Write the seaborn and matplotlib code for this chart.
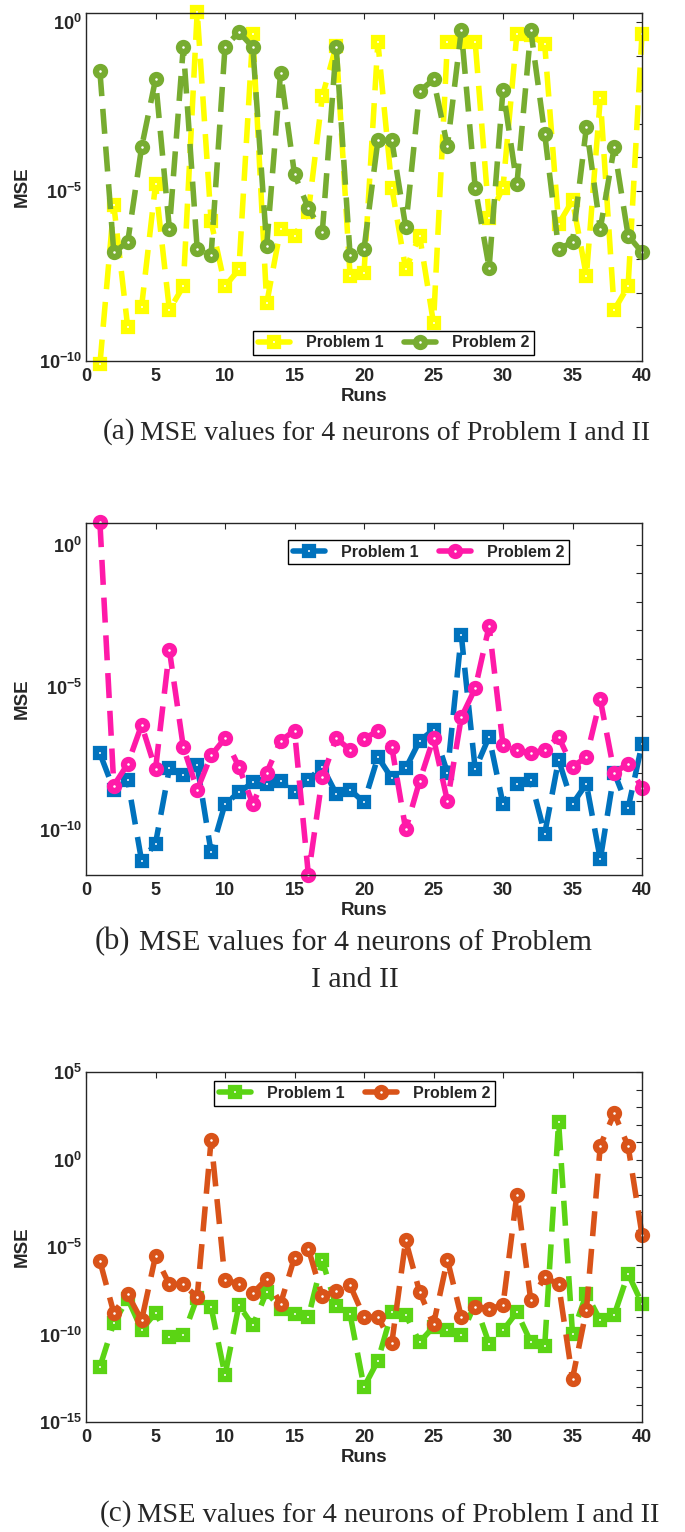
import numpy as np
import pandas as pd
import seaborn as sns
import matplotlib.pyplot as plt
from matplotlib.ticker import FixedLocator, NullLocator

sns.set_theme(style="white")
plt.rcParams['font.family'] = ['Liberation Sans', 'DejaVu Sans']
plt.rcParams['mathtext.fontset'] = 'custom'
plt.rcParams['mathtext.rm'] = 'Liberation Sans:bold'
plt.rcParams['mathtext.bf'] = 'Liberation Sans:bold'

runs = list(range(1, 41))

# (a) 4 neurons
a_p1 = [7.9e-11, 4.0e-6, 1.0e-9, 4.0e-9, 1.6e-5, 3.2e-9, 1.6e-8, 2.0, 1.3e-6, 1.6e-8,
        5.0e-8, 0.45, 5.0e-9, 7.9e-7, 5.0e-7, 2.5e-6, 6.3e-3, 0.2, 3.2e-8, 4.0e-8,
        0.25, 1.3e-5, 5.0e-8, 5.0e-7, 1.3e-9, 0.25, 0.25, 0.25, 1.7e-6, 1.3e-5,
        0.45, 0.4, 0.22, 1.1e-6, 5.4e-6, 3.2e-8, 5.6e-3, 3.2e-9, 1.6e-8, 0.45]
a_p2 = [3.5e-2, 1.6e-7, 3.2e-7, 2.0e-4, 2.0e-2, 7.9e-7, 0.18, 2.0e-7, 1.3e-7, 0.18,
        0.5, 0.18, 2.5e-7, 3.2e-2, 3.2e-5, 3.2e-6, 6.3e-7, 0.18, 1.3e-7, 2.0e-7,
        3.2e-4, 3.2e-4, 8.9e-7, 9.0e-3, 2.0e-2, 2.2e-4, 0.56, 1.3e-5, 5.6e-8, 1.0e-2,
        1.6e-5, 0.56, 5.0e-4, 2.0e-7, 3.2e-7, 7.9e-4, 7.9e-7, 2.0e-4, 5.0e-7, 1.6e-7]

# (b) 4 neurons
b_p1 = [4.7e-8, 2.5e-9, 5.4e-9, 7.9e-12, 3.2e-11, 1.4e-8, 7.9e-9, 1.8e-8, 1.6e-11, 7.9e-10,
        2.0e-9, 4.5e-9, 4.0e-9, 5.0e-9, 2.0e-9, 5.6e-9, 1.6e-8, 1.8e-9, 2.5e-9, 8.9e-10,
        3.5e-8, 6.3e-9, 1.4e-8, 1.3e-7, 3.2e-7, 1.0e-8, 6.8e-4, 1.3e-8, 1.8e-7, 7.9e-10,
        4.0e-9, 5.4e-9, 7.1e-11, 2.8e-8, 7.9e-10, 4.0e-9, 8.9e-12, 1.0e-8, 5.6e-10, 1.0e-7]
b_p2 = [6.3, 3.5e-9, 2.0e-8, 4.7e-7, 1.3e-8, 2.0e-4, 7.9e-8, 2.5e-9, 4.0e-8, 1.6e-7,
        1.6e-8, 7.9e-10, 1.0e-8, 1.3e-7, 3.0e-7, 2.5e-12, 6.8e-9, 1.6e-7, 6.3e-8, 1.5e-7,
        3.0e-7, 7.9e-8, 1.0e-10, 5.0e-9, 1.6e-7, 1.0e-9, 8.7e-7, 9.1e-6, 1.4e-3, 9.3e-8,
        6.3e-8, 4.7e-8, 6.3e-8, 1.8e-7, 1.6e-8, 3.5e-8, 3.7e-6, 1.0e-8, 2.0e-8, 2.8e-9]

# (c) 4 neurons
c_p1 = [1.4e-12, 4.6e-10, 1.1e-8, 1.9e-10, 1.7e-9, 7.2e-11, 8.9e-11, 1.3e-8, 3.7e-9, 4.7e-13,
        4.7e-9, 3.3e-10, 2.7e-8, 3.0e-9, 1.5e-9, 1.0e-9, 1.7e-6, 4.1e-9, 1.4e-9, 1.0e-13,
        3.2e-12, 1.9e-9, 1.3e-9, 3.7e-11, 2.7e-10, 1.7e-10, 8.9e-11, 5.8e-9, 3.0e-11, 1.7e-10,
        1.9e-9, 3.7e-11, 2.1e-11, 1.4e2, 1.1e-10, 2.1e-8, 6.5e-10, 1.3e-9, 3.0e-7, 5.8e-9]
c_p2 = [1.6e-6, 1.7e-9, 2.0e-8, 6.5e-10, 3.0e-6, 7.4e-8, 7.4e-8, 1.4e-8, 13.0, 1.3e-7,
        7.9e-8, 2.3e-8, 1.5e-7, 5.8e-9, 2.5e-6, 7.8e-6, 1.5e-8, 3.1e-8, 6.5e-8, 1.0e-9,
        1.0e-9, 3.2e-11, 2.4e-5, 2.7e-8, 3.8e-10, 1.9e-6, 1.0e-9, 3.7e-9, 3.0e-9, 4.7e-9,
        1.0e-2, 8.9e-9, 1.9e-7, 7.4e-8, 3.0e-13, 2.6e-9, 6.3, 4.3e2, 5.9, 5.1e-5]

caption = 'MSE values for 4 neurons of Problem I and II'

W, H = 685, 1532
fig = plt.figure(figsize=(W / 100, H / 100), dpi=100)

panels = [
    # data, colors, axes box (px: left, top, right, bottom), ylim exponents, labelled decades, legend
    dict(p1=a_p1, p2=a_p2, c1='#FFFF00', c2='#77AC30', box=(86, 13, 642, 361),
         ylim=(-10, 0.26), ylab=[0, -5, -10], leg=('lower left', (0.30, 0.017))),
    dict(p1=b_p1, p2=b_p2, c1='#0072BD', c2='#FF1AA8', box=(86, 523, 642, 875),
         ylim=(-11.6, 0.77), ylab=[0, -5, -10], leg=('upper left', (0.363, 0.952))),
    dict(p1=c_p1, p2=c_p2, c1='#5BD414', c2='#D95319', box=(86, 1072, 642, 1422),
         ylim=(-15, 5), ylab=[5, 0, -5, -10, -15], leg=('upper left', (0.23, 0.974))),
]

dash = (0, (4.5, 2.3))
for i, p in enumerate(panels):
    l, t, r, b = p['box']
    ax = fig.add_axes([l / W, 1 - b / H, (r - l) / W, (b - t) / H])
    df = pd.DataFrame({'Runs': runs, 'Problem 1': p['p1'], 'Problem 2': p['p2']})
    sns.lineplot(data=df, x='Runs', y='Problem 1', ax=ax, color=p['c1'], lw=4,
                 linestyle=dash, marker='s', markersize=5.5, markeredgewidth=4.5,
                 markerfacecolor='white', markeredgecolor=p['c1'], clip_on=False,
                 label='Problem 1')
    sns.lineplot(data=df, x='Runs', y='Problem 2', ax=ax, color=p['c2'], lw=4,
                 linestyle=dash, marker='o', markersize=6.5, markeredgewidth=4.5,
                 markerfacecolor='white', markeredgecolor=p['c2'], clip_on=False,
                 label='Problem 2')
    ax.set_yscale('log')
    ax.set_xlim(0, 40)
    ax.set_ylim(10.0 ** p['ylim'][0], 10.0 ** p['ylim'][1])
    ax.set_xticks(range(0, 41, 5))
    ax.set_xticklabels([str(v) for v in range(0, 41, 5)], fontsize=13, fontweight='bold')
    decades = list(range(int(np.ceil(p['ylim'][0])), int(np.floor(p['ylim'][1])) + 1))
    ax.yaxis.set_major_locator(FixedLocator([10.0 ** d for d in decades]))
    ax.yaxis.set_minor_locator(NullLocator())
    ax.set_yticklabels([r'$10^{%d}$' % d if d in p['ylab'] else '' for d in decades],
                       fontsize=13)
    ax.tick_params(direction='in', length=4, width=0.8, top=True, right=True,
                   colors='#262626', labelcolor='#262626', pad=3)
    ax.tick_params(axis='x', pad=5)
    for s in ax.spines.values():
        s.set_color('#262626')
        s.set_linewidth(1.0)
    ax.set_xlabel('Runs', fontsize=13.5, fontweight='bold', color='#262626', labelpad=2)
    ax.set_ylabel('MSE', fontsize=13.5, fontweight='bold', color='#262626', labelpad=6)
    ax.grid(False)

    loc, anchor = p['leg']
    leg = ax.legend(loc=loc, bbox_to_anchor=anchor, ncol=2, frameon=True, fancybox=False,
                    edgecolor='black', framealpha=1, borderaxespad=0,
                    prop={'weight': 'bold', 'size': 11.5}, handlelength=2.0,
                    columnspacing=1.3, handletextpad=1.0, borderpad=0.3)
    leg.get_frame().set_linewidth(1.0)
    for h in leg.get_lines():
        h.set_linestyle('-')

serif = 'Liberation Serif'
fig.text(103 / W, 1 - 432 / H, '(a)', fontsize=21, family=serif, ha='left', va='center')
fig.text(140 / W, 1 - 433 / H, caption, fontsize=20, family=serif, ha='left', va='center')
fig.text(95 / W, 1 - 942 / H, '(b)', fontsize=22, family=serif, ha='left', va='center')
fig.text(139 / W, 1 - 943 / H, caption[:caption.index(' I and')], fontsize=21.5,
         family=serif, ha='left', va='center')
fig.text(355 / W, 1 - 980 / H, 'I and II', fontsize=21.5, family=serif,
         ha='center', va='center')
fig.text(100 / W, 1 - 1514 / H, '(c)', fontsize=21, family=serif, ha='left', va='center')
fig.text(137 / W, 1 - 1515 / H, caption, fontsize=20.5, family=serif, ha='left', va='center')

fig.savefig('out.png', dpi=100)
